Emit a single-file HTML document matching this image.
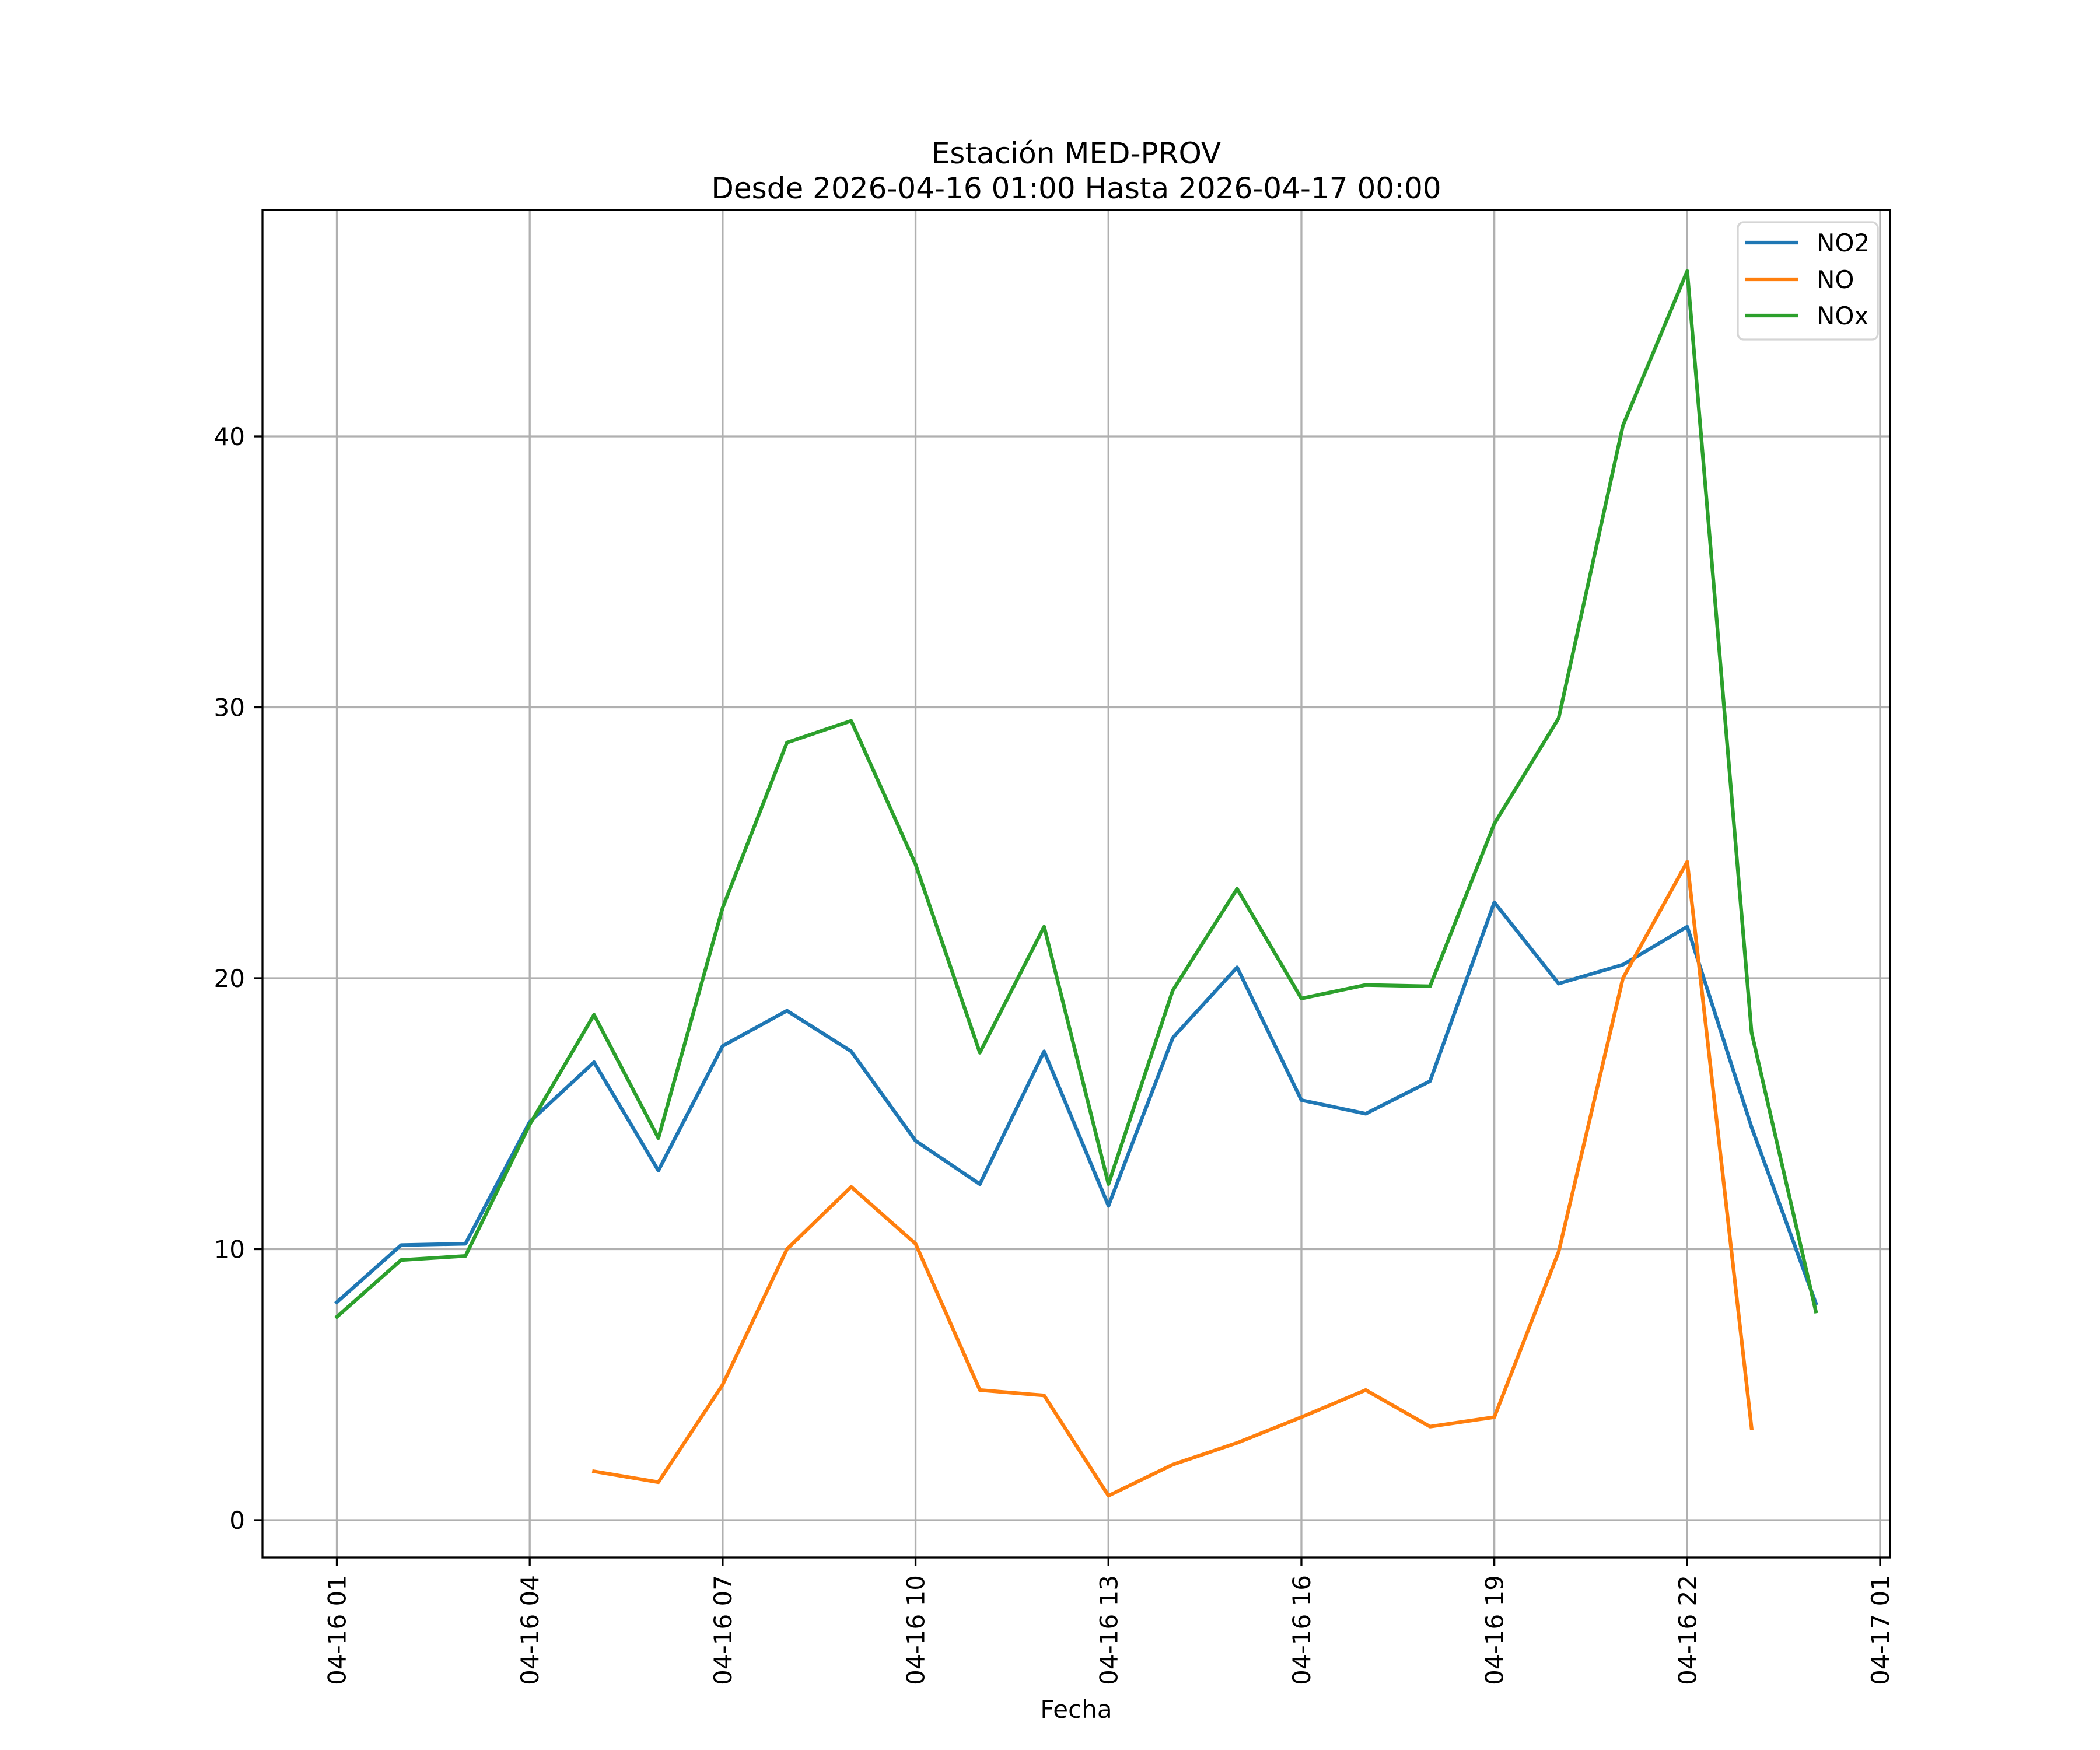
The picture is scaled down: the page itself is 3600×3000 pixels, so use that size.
<!DOCTYPE html>
<html><head><meta charset="utf-8"><style>
html,body{margin:0;padding:0;background:#fff}
svg{display:block;font-family:"DejaVu Sans","Liberation Sans",sans-serif}
</style></head><body>
<svg id="chart" width="3600" height="3000" viewBox="0 0 3600 3000" xmlns="http://www.w3.org/2000/svg">
<rect width="3600" height="3000" fill="#fff"/>
<text x="1845" y="280" font-size="50" text-anchor="middle">Estación MED-PROV</text>
<text x="1845" y="340" font-size="50" text-anchor="middle">Desde 2026-04-16 01:00 Hasta 2026-04-17 00:00</text>
<g id="grid"></g>
<g id="series"></g>
<rect x="450" y="360" width="2790" height="2310" fill="none" stroke="#000" stroke-width="3.3"/>
<g id="ticks"></g>
<text x="1845" y="2945" font-size="42" text-anchor="middle">Fecha</text>
<g>
<rect x="2979" y="381" width="240" height="201" rx="10" fill="#fff" fill-opacity="0.8" stroke="#d5d5d5" stroke-width="3.3"/>
<g><line x1="2992" y1="416" x2="3082" y2="416" stroke="#1f77b4" stroke-width="6.25"/><text x="3114" y="431" font-size="42">NO2</text></g>
<g><line x1="2992" y1="479" x2="3082" y2="479" stroke="#ff7f0e" stroke-width="6.25"/><text x="3114" y="494" font-size="42">NO</text></g>
<g><line x1="2992" y1="541" x2="3082" y2="541" stroke="#2ca02c" stroke-width="6.25"/><text x="3114" y="556" font-size="42">NOx</text></g>
</g>
</svg>
<script>
const hours = [1,2,3,4,5,6,7,8,9,10,11,12,13,14,15,16,17,18,19,20,21,22,23,24];
const no2 = [8.04,10.15,10.2,14.7,16.9,12.9,17.5,18.8,17.3,14.0,12.4,17.3,11.6,17.8,20.4,15.5,15.0,16.2,22.8,19.8,20.5,21.9,14.5,8.0];
const no = [null,null,null,null,1.8,1.4,5.0,10.0,12.3,10.2,4.8,4.6,0.9,2.05,2.85,3.8,4.8,3.45,3.8,9.9,20.0,24.3,3.4,null];
const nox = [7.5,9.6,9.75,14.6,18.65,14.1,22.6,28.7,29.5,24.2,17.25,21.9,12.4,19.55,23.3,19.25,19.75,19.7,25.7,29.6,40.4,46.1,18.0,7.7];
const xTicks = [1,4,7,10,13,16,19,22,25];
const xTickLabels = ["04-16 01","04-16 04","04-16 07","04-16 10","04-16 13","04-16 16","04-16 19","04-16 22","04-17 01"];
const yTicks = [0,10,20,30,40];

const NS = "http://www.w3.org/2000/svg";
const BOTTOM = 2670;
function xs(h){ return 577.5 + (h-1)*110.23; }
function ys(v){ return 2606 - v*46.45; }
function mk(tag, attrs, parent){
  const e = document.createElementNS(NS, tag);
  for (const k in attrs) e.setAttribute(k, attrs[k]);
  parent.appendChild(e);
  return e;
}
const grid = document.getElementById('grid');
const ticks = document.getElementById('ticks');
const series = document.getElementById('series');

xTicks.forEach((h,i)=>{
  const x = xs(h);
  const g = mk('line',{x1:x,y1:360,x2:x,y2:BOTTOM,stroke:'#b0b0b0','stroke-width':3.3},grid);
  
  
  const t = mk('line',{x1:x,y1:BOTTOM,x2:x,y2:BOTTOM+15,stroke:'#000','stroke-width':3.3},ticks);
  
  
  const lb = mk('text',{x:0,y:0,'font-size':42,'text-anchor':'end',transform:`translate(${x+15},${BOTTOM+30}) rotate(-90)`},ticks);
  lb.textContent = xTickLabels[i];
  
  
});
yTicks.forEach(v=>{
  const y = ys(v);
  const g = mk('line',{x1:450,y1:y,x2:3240,y2:y,stroke:'#b0b0b0','stroke-width':3.3},grid);
  
  
  const t = mk('line',{x1:435,y1:y,x2:450,y2:y,stroke:'#000','stroke-width':3.3},ticks);
  
  
  const lb = mk('text',{x:420,y:y+15,'font-size':42,'text-anchor':'end'},ticks);
  lb.textContent = String(v);
  
  
});
function drawSeries(vals, color, name){
  let segs = [], cur = [];
  vals.forEach((v,i)=>{
    if (v===null){ if(cur.length) segs.push(cur); cur=[]; }
    else cur.push(xs(hours[i]).toFixed(1)+','+ys(v).toFixed(1));
  });
  if (cur.length) segs.push(cur);
  segs.forEach(s=>{
    const p = mk('polyline',{points:s.join(' '),fill:'none',stroke:color,'stroke-width':6.25,'stroke-linejoin':'round','stroke-linecap':'square'},series);
    
    
  });
}
drawSeries(no2,'#1f77b4','line-no2');
drawSeries(no,'#ff7f0e','line-no');
drawSeries(nox,'#2ca02c','line-nox');
</script>
</body></html>
